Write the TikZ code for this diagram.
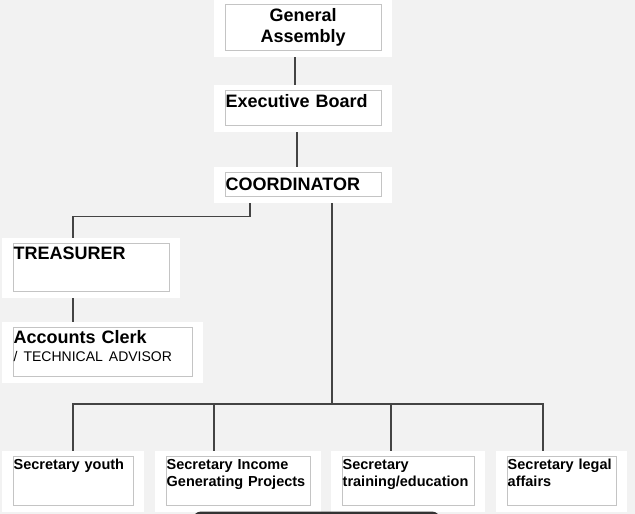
\documentclass[tikz,border=0pt]{standalone}
\usepackage{fontspec}
\setmainfont{Liberation Sans}
\usepackage{xcolor}
\usepackage{tikz}
\usetikzlibrary{backgrounds}
\definecolor{pagegray}{HTML}{F2F2F2}
\definecolor{boxgray}{HTML}{C4C4C4}
\definecolor{linegray}{HTML}{444444}
\tikzset{
  unit/.style={draw=boxgray, line width=0.8pt, fill=white, anchor=north west,
    align=left, inner xsep=0.3pt, inner ysep=0pt},
  bigtext/.style={font=\fontsize{18}{21}\selectfont\bfseries},
  smalltext/.style={font=\fontsize{14.5}{17}\selectfont\bfseries, text height=13pt, text depth=36pt},
  link/.style={draw=linegray, line width=1.1pt},
  panel/.style={fill=white}
}

\begin{document}
\begin{tikzpicture}[x=1pt, y=-1pt]
    \useasboundingbox (0,0) rectangle (635,514);
    % Top of the chart
    \node[unit, bigtext, align=center, text width=155pt, text height=17pt, text depth=29pt] (ga) at (225,4) {General\\Assembly};
    \node[unit, bigtext, text width=155pt, text height=17pt, text depth=18pt] (eb) at (225,90) {Executive Board};
    \node[unit, bigtext, text width=155pt, text height=18pt, text depth=6pt] (co) at (225,172) {COORDINATOR};
    % Finance branch
    \node[unit, bigtext, text width=155pt, text height=16pt, text depth=32pt] (tr) at (13,243) {TREASURER};
    \node[unit, bigtext, text width=178pt, text height=16pt, text depth=33pt] (ac) at (13,327)
        {Accounts Clerk\\[-3pt]{\fontsize{14}{18}\selectfont\mdseries / TECHNICAL ADVISOR}};
    % Secretaries
    \node[unit, smalltext, text width=119pt] (sy) at (13,456) {Secretary youth};
    \node[unit, smalltext, text width=143pt] (si) at (166,456) {Secretary Income\\Generating Projects};
    \node[unit, smalltext, text width=131pt] (st) at (342,456) {Secretary\\training/education};
    \node[unit, smalltext, text width=108pt] (sl) at (507,456) {Secretary legal\\affairs};
    \coordinate (bus) at (332,404);

    \begin{scope}[on background layer]
        \fill[pagegray] (0,0) rectangle (635,514);
        % Connectors
        \draw[link] ([xshift=70]ga.south west) -- ([xshift=70]eb.north west);
        \draw[link] ([xshift=72]eb.south west) -- ([xshift=72]co.north west);
        \draw[link] ([xshift=25]co.south west) -- ++(0,20) -| ([xshift=60]tr.north west);
        \draw[link] ([xshift=60]tr.south west) -- ([xshift=60]ac.north west);
        \draw[link] ([xshift=107]co.south west) -- (bus);
        \foreach \n/\dx in {sy/60, si/48, st/49, sl/36}
            \draw[link] (bus) -| ([xshift=\dx]\n.north west);
        % White panels behind the boxes
        \foreach \n in {ga,eb,co,tr,ac,sy,si,st,sl}
            \fill[panel] ([shift={(-11,-5)}]\n.north west) rectangle ([shift={(11,6)}]\n.south east);
    \end{scope}

    % Dark bar cut off at the bottom
    \begin{scope}
        \clip (0,0) rectangle (635,514);
        \fill[black!80, rounded corners=8pt] (193,511.5) rectangle (440,540);
    \end{scope}
\end{tikzpicture}
\end{document}
